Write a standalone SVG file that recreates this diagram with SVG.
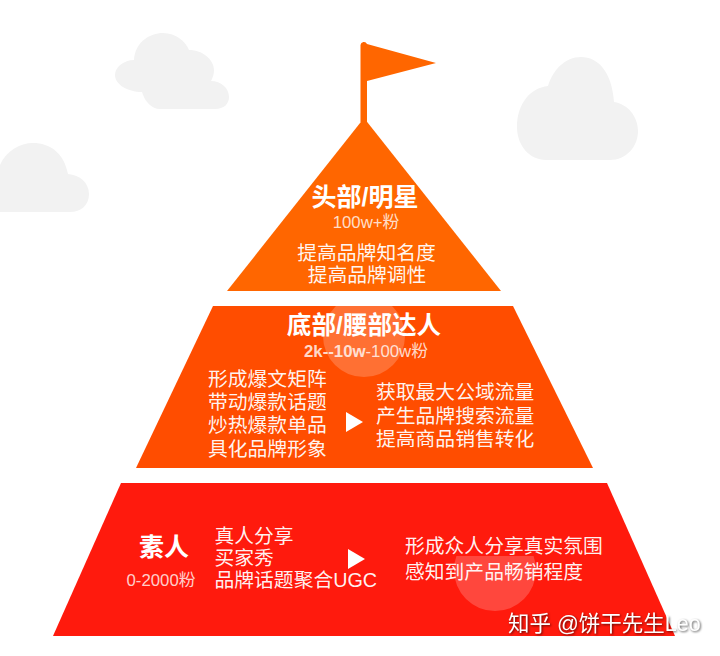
<svg xmlns="http://www.w3.org/2000/svg" width="720" height="656" viewBox="0 0 720 656">
<defs>
<style>
text{font-family:"Liberation Sans","Noto Sans CJK SC",sans-serif;fill:#fff}
.cloud{fill:#f2f2f2}
.h{font-size:25px;font-weight:700;text-anchor:middle}
.h2{font-size:24.600px}
.s{font-size:16.800px;text-anchor:middle;fill-opacity:.8}
.b{font-size:19.800px;fill-opacity:.95}
.m{text-anchor:middle}
.wm{font-size:21.500px;filter:drop-shadow(1px 1px 1px rgba(0,0,0,.6))}
.halo{fill:#fff;fill-opacity:.2}
</style>
<clipPath id="cm"><path d="M213 306H513L593 468H136Z"/></clipPath>
<clipPath id="cb"><rect x="440" y="556" width="110" height="60"/></clipPath>
</defs>
<rect width="720" height="656" fill="#fff"/>
<g id="clouds">
<path class="cloud" d="M134 60C135 42 150 33 163 33C176 33 186 42 189 50C203 50 214 60 214 70C214 74 213 77 211 81C221 81 229 88 229 97C229 104 224 109 215 109H160C152 109 145 102 142 92C127 92 115 84 115 75C115 67 124 60 134 60Z"/>
<path class="cloud" d="M0 165C6 151 20 143 33 143C50 143 64 153 68 174C80 175 89 183 89 194C89 205 81 212 70 212H0Z"/>
<path class="cloud" d="M548 86C553 70 565 57 581 57C598 57 612 72 614 102C628 104 638 117 638 131C638 147 626 160 610 160H546C530 160 517 146 517 127C517 104 530 88 548 86Z"/>
</g>
<g id="flag">
<path fill="#ff6600" d="M360.500 45A3.400 3.400 0 0 1 367 44L436 63L367 81V122H360.500Z"/>
</g>
<g id="tier-top">
<path fill="#ff6600" d="M364 118L501 291H227Z"/>
<text class="h" x="365" y="206">头部/明星</text>
<text class="s" x="366" y="228">100w+粉</text>
<text class="b m" x="366.500" y="260">提高品牌知名度</text>
<text class="b m" x="367" y="282">提高品牌调性</text>
</g>
<g id="tier-middle">
<path fill="#ff4d00" d="M213 306H513L593 468H136Z"/>
<circle class="halo" cx="364" cy="336" r="41" clip-path="url(#cm)"/>
<text class="h h2" x="364" y="334">底部/腰部达人</text>
<text class="s" x="366" y="357"><tspan font-weight="700">2k--10w</tspan>-100w粉</text>
<text class="b" x="208" y="386">形成爆文矩阵</text>
<text class="b" x="208" y="409">带动爆款话题</text>
<text class="b" x="208" y="432">炒热爆款单品</text>
<text class="b" x="208" y="456">具化品牌形象</text>
<path fill="#fff" d="M346 412L363 422L346 432Z"/>
<text class="b" x="376" y="399">获取最大公域流量</text>
<text class="b" x="376" y="423">产生品牌搜索流量</text>
<text class="b" x="376" y="446">提高商品销售转化</text>
</g>
<g id="tier-bottom">
<path fill="#ff1a0d" d="M121 483H607L675 636H53Z"/>
<circle class="halo" cx="495" cy="570" r="41" clip-path="url(#cb)"/>
<text class="h" x="164" y="556">素人</text>
<text class="s" x="161" y="586">0-2000粉</text>
<text class="b" x="214.500" y="543">真人分享</text>
<text class="b" x="214.500" y="565">买家秀</text>
<text class="b" x="214.500" y="587">品牌话题聚合UGC</text>
<path fill="#fff" d="M348 549L365 559L348 569Z"/>
<text class="b" x="405" y="553">形成众人分享真实氛围</text>
<text class="b" x="405" y="579">感知到产品畅销程度</text>
</g>
<g id="watermark">
<text class="wm" x="508" y="631">知乎 @饼干先生Leo</text>
</g>
</svg>
